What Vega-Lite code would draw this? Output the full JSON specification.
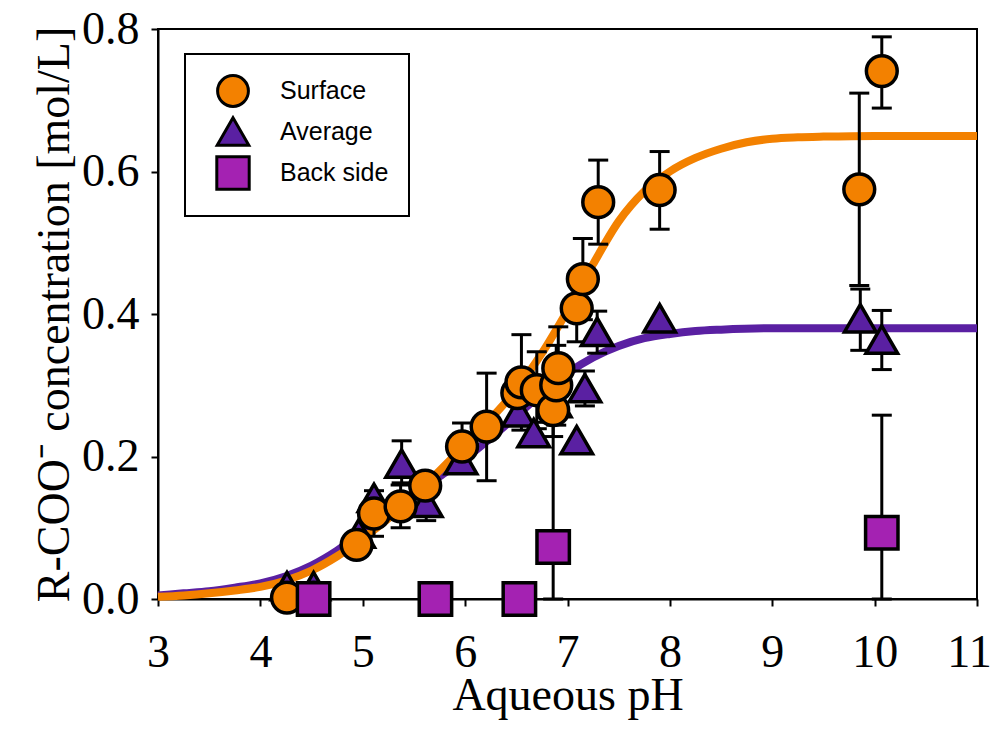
{
  "$schema": "https://vega.github.io/schema/vega-lite/v6.json",
  "autosize": {"type": "none"},
  "padding": {"left": 158, "top": 29, "right": 17, "bottom": 138},
  "width": 819,
  "height": 570,
  "background": "white",
  "config": {
    "view": {"stroke": "black", "strokeWidth": 2},
    "axis": {
      "grid": false,
      "domainColor": "black",
      "domainWidth": 2,
      "tickColor": "black",
      "tickWidth": 2,
      "tickSize": 7,
      "labelFont": "Liberation Serif",
      "labelFontSize": 46,
      "labelColor": "black",
      "labelFlush": false,
      "labelOverlap": false,
      "titleFont": "Liberation Serif",
      "titleFontSize": 46,
      "titleFontWeight": "normal",
      "titleColor": "black"
    },
    "legend": {
      "orient": "none",
      "legendX": 27,
      "legendY": 25,
      "strokeColor": "black",
      "strokeWidth": 2,
      "fillColor": "white",
      "padding": 20,
      "labelFont": "Liberation Sans",
      "labelFontSize": 25,
      "labelColor": "black",
      "labelOffset": 29,
      "symbolSize": 950,
      "symbolStrokeColor": "black",
      "symbolStrokeWidth": 3,
      "symbolOpacity": 1,
      "symbolOffset": 10,
      "rowPadding": -2
    }
  },
  "datasets": {
    "fitS": [
      {"pH": 3.0, "c": 0.003}, {"pH": 3.25, "c": 0.005}, {"pH": 3.5, "c": 0.008}, {"pH": 3.75, "c": 0.012},
      {"pH": 4.0, "c": 0.017}, {"pH": 4.25, "c": 0.026}, {"pH": 4.5, "c": 0.04}, {"pH": 4.75, "c": 0.06},
      {"pH": 5.0, "c": 0.085}, {"pH": 5.25, "c": 0.113}, {"pH": 5.5, "c": 0.145}, {"pH": 5.75, "c": 0.18},
      {"pH": 6.0, "c": 0.216}, {"pH": 6.25, "c": 0.253}, {"pH": 6.5, "c": 0.294}, {"pH": 6.75, "c": 0.345},
      {"pH": 7.0, "c": 0.405}, {"pH": 7.25, "c": 0.47}, {"pH": 7.5, "c": 0.53}, {"pH": 7.75, "c": 0.572},
      {"pH": 8.0, "c": 0.6}, {"pH": 8.25, "c": 0.619}, {"pH": 8.5, "c": 0.632}, {"pH": 8.75, "c": 0.641},
      {"pH": 9.0, "c": 0.646}, {"pH": 9.25, "c": 0.648}, {"pH": 9.5, "c": 0.649}, {"pH": 10.0, "c": 0.65},
      {"pH": 10.5, "c": 0.65}, {"pH": 11.0, "c": 0.65}
    ],
    "fitA": [
      {"pH": 3.0, "c": 0.005}, {"pH": 3.25, "c": 0.008}, {"pH": 3.5, "c": 0.011}, {"pH": 3.75, "c": 0.016},
      {"pH": 4.0, "c": 0.022}, {"pH": 4.25, "c": 0.032}, {"pH": 4.5, "c": 0.047}, {"pH": 4.75, "c": 0.068},
      {"pH": 5.0, "c": 0.094}, {"pH": 5.25, "c": 0.121}, {"pH": 5.5, "c": 0.147}, {"pH": 5.75, "c": 0.172},
      {"pH": 6.0, "c": 0.197}, {"pH": 6.25, "c": 0.226}, {"pH": 6.5, "c": 0.257}, {"pH": 6.75, "c": 0.289},
      {"pH": 7.0, "c": 0.317}, {"pH": 7.25, "c": 0.339}, {"pH": 7.5, "c": 0.355}, {"pH": 7.75, "c": 0.366},
      {"pH": 8.0, "c": 0.372}, {"pH": 8.25, "c": 0.376}, {"pH": 8.5, "c": 0.378}, {"pH": 9.0, "c": 0.38},
      {"pH": 10.0, "c": 0.38}, {"pH": 11.0, "c": 0.38}
    ],
    "pts": [
      {"series": "Average", "pH": 4.26, "c": 0.018},
      {"series": "Average", "pH": 4.52, "c": 0.018},
      {"series": "Average", "pH": 4.96, "c": 0.092},
      {"series": "Average", "pH": 5.11, "c": 0.142},
      {"series": "Average", "pH": 5.38, "c": 0.19, "lo": 0.163, "hi": 0.222},
      {"series": "Average", "pH": 5.62, "c": 0.135, "lo": 0.11, "hi": 0.16},
      {"series": "Average", "pH": 5.96, "c": 0.195, "lo": 0.179, "hi": 0.211},
      {"series": "Average", "pH": 6.52, "c": 0.262},
      {"series": "Average", "pH": 6.67, "c": 0.233, "lo": 0.218, "hi": 0.248},
      {"series": "Average", "pH": 6.88, "c": 0.275},
      {"series": "Average", "pH": 7.09, "c": 0.223},
      {"series": "Average", "pH": 7.17, "c": 0.296, "lo": 0.271, "hi": 0.32},
      {"series": "Average", "pH": 7.29, "c": 0.375, "lo": 0.345, "hi": 0.404},
      {"series": "Average", "pH": 7.9, "c": 0.394},
      {"series": "Average", "pH": 9.86, "c": 0.394, "lo": 0.349, "hi": 0.435},
      {"series": "Average", "pH": 10.07, "c": 0.364, "lo": 0.322, "hi": 0.405},
      {"series": "Surface", "pH": 4.26, "c": 0.002},
      {"series": "Surface", "pH": 4.52, "c": 0.002},
      {"series": "Surface", "pH": 4.94, "c": 0.076},
      {"series": "Surface", "pH": 5.11, "c": 0.12, "lo": 0.088, "hi": 0.152},
      {"series": "Surface", "pH": 5.37, "c": 0.13, "lo": 0.1, "hi": 0.16},
      {"series": "Surface", "pH": 5.61, "c": 0.159},
      {"series": "Surface", "pH": 5.97, "c": 0.214, "lo": 0.181, "hi": 0.247},
      {"series": "Surface", "pH": 6.21, "c": 0.242, "lo": 0.166, "hi": 0.317},
      {"series": "Surface", "pH": 6.51, "c": 0.289},
      {"series": "Surface", "pH": 6.55, "c": 0.304, "lo": 0.237, "hi": 0.371},
      {"series": "Surface", "pH": 6.7, "c": 0.293, "lo": 0.239, "hi": 0.347},
      {"series": "Surface", "pH": 6.86, "c": 0.265, "lo": 0.228, "hi": 0.302},
      {"series": "Surface", "pH": 6.89, "c": 0.3, "lo": 0.244, "hi": 0.356},
      {"series": "Surface", "pH": 6.91, "c": 0.324, "lo": 0.266, "hi": 0.382},
      {"series": "Surface", "pH": 7.09, "c": 0.408, "lo": 0.361, "hi": 0.455},
      {"series": "Surface", "pH": 7.15, "c": 0.449, "lo": 0.392, "hi": 0.506},
      {"series": "Surface", "pH": 7.3, "c": 0.557, "lo": 0.498, "hi": 0.616},
      {"series": "Surface", "pH": 7.9, "c": 0.574, "lo": 0.519, "hi": 0.628},
      {"series": "Surface", "pH": 9.85, "c": 0.575, "lo": 0.44, "hi": 0.71},
      {"series": "Surface", "pH": 10.07, "c": 0.741, "lo": 0.689, "hi": 0.789},
      {"series": "Back side", "pH": 4.52, "c": 0.0},
      {"series": "Back side", "pH": 5.71, "c": 0.0},
      {"series": "Back side", "pH": 6.53, "c": 0.0},
      {"series": "Back side", "pH": 6.86, "c": 0.073, "lo": 0.0, "hi": 0.262},
      {"series": "Back side", "pH": 10.07, "c": 0.093, "lo": 0.0, "hi": 0.258}
    ]
  },
  "layer": [
    {
      "data": {"name": "fitA"},
      "mark": {"type": "line", "color": "#5A20A2", "strokeWidth": 8, "interpolate": "monotone"},
      "encoding": {
        "x": {"field": "pH", "type": "quantitative", "scale": {"domain": [3, 11], "nice": false}, "axis": {"title": "Aqueous pH", "values": [3,4,5,6,7,8,9,10,11], "format": "d", "labelPadding": 24, "titlePadding": -2, "labelOffset": {"condition": {"test": "datum.value === 11", "value": -8}, "value": 0}}},
        "y": {"field": "c", "type": "quantitative", "scale": {"domain": [0, 0.8], "nice": false}, "axis": {"title": "R-COO⁻ concentration [mol/L]", "values": [0, 0.2, 0.4, 0.6, 0.8], "format": ".1f", "labelPadding": 12, "titlePadding": 3}}
      }
    },
    {
      "data": {"name": "fitS"},
      "mark": {"type": "line", "color": "#F38100", "strokeWidth": 8, "interpolate": "monotone"},
      "encoding": {
        "x": {"field": "pH", "type": "quantitative"},
        "y": {"field": "c", "type": "quantitative"}
      }
    },
    {
      "data": {"name": "pts"},
      "transform": [{"filter": "isValid(datum.lo)"}],
      "mark": {"type": "rule", "color": "black", "strokeWidth": 3},
      "encoding": {
        "x": {"field": "pH", "type": "quantitative"},
        "y": {"field": "lo", "type": "quantitative"},
        "y2": {"field": "hi"}
      }
    },
    {
      "data": {"name": "pts"},
      "transform": [{"filter": "isValid(datum.lo)"}],
      "mark": {"type": "tick", "orient": "horizontal", "color": "black", "size": 20, "thickness": 3, "opacity": 1},
      "encoding": {
        "x": {"field": "pH", "type": "quantitative"},
        "y": {"field": "lo", "type": "quantitative"}
      }
    },
    {
      "data": {"name": "pts"},
      "transform": [{"filter": "isValid(datum.hi)"}],
      "mark": {"type": "tick", "orient": "horizontal", "color": "black", "size": 20, "thickness": 3, "opacity": 1},
      "encoding": {
        "x": {"field": "pH", "type": "quantitative"},
        "y": {"field": "hi", "type": "quantitative"}
      }
    },
    {
      "data": {"name": "pts"},
      "mark": {"type": "point", "filled": true, "opacity": 1, "stroke": "black", "strokeWidth": 3.5},
      "encoding": {
        "x": {"field": "pH", "type": "quantitative"},
        "y": {"field": "c", "type": "quantitative"},
        "color": {"field": "series", "type": "nominal", "scale": {"domain": ["Surface", "Average", "Back side"], "range": ["#F38100", "#5A20A2", "#A422B2"]}, "legend": {"title": null, "symbolStrokeColor": "black", "symbolStrokeWidth": 3, "encode": {"symbols": {"update": {"stroke": {"value": "black"}, "strokeWidth": {"value": 3}}}}}},
        "shape": {"field": "series", "type": "nominal", "scale": {"domain": ["Surface", "Average", "Back side"], "range": ["circle", "triangle-up", "square"]}, "legend": {"title": null}},
        "size": {"field": "series", "type": "nominal", "scale": {"domain": ["Surface", "Average", "Back side"], "range": [950, 1050, 700]}, "legend": null}
      }
    }
  ]
}
